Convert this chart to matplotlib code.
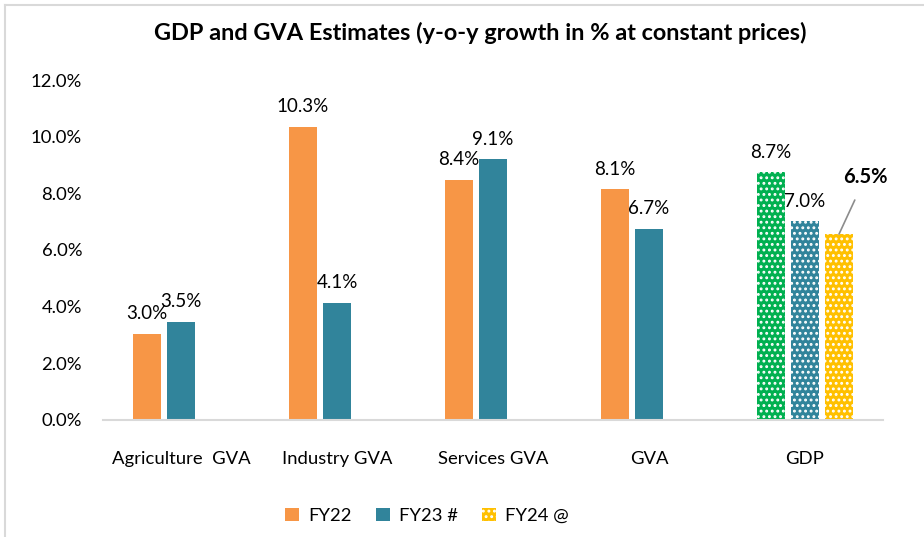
import matplotlib.pyplot as plt
import numpy as np
from matplotlib.patches import Patch
from matplotlib.lines import Line2D

plt.rcParams["font.family"] = ["Lato", "DejaVu Sans"]
plt.rcParams["hatch.linewidth"] = 1.3

categories = ["Agriculture  GVA", "Industry GVA", "Services GVA", "GVA", "GDP"]
fy22 = [3.04, 10.35, 8.48, 8.15, 8.75]
fy23 = [3.46, 4.13, 9.2, 6.74, 7.02]
fy24 = [np.nan, np.nan, np.nan, np.nan, 6.56]
fy22_labels = ["3.0%", "10.3%", "8.4%", "8.1%", "8.7%"]
fy23_labels = ["3.5%", "4.1%", "9.1%", "6.7%", "7.0%"]
fy24_labels = ["", "", "", "", "6.5%"]
series_names = ["FY22", "FY23 #", "FY24 @"]

orange = "#F79646"
teal = "#31849B"
green = "#00B050"
yellow = "#FFC000"

fig = plt.figure(figsize=(9.24, 5.37), dpi=100)
ax = fig.add_axes([103 / 924, 117 / 537, 780 / 924, 340 / 537])

x = np.arange(len(categories))
width = 0.18
step = 0.218

b22 = ax.bar(x - step, fy22, width, color=orange)
b23 = ax.bar(x, fy23, width, color=teal)
b24 = ax.bar(x + step, fy24, width, color=yellow)

# GDP bars are patterned, FY22 shown in green
gdp = len(categories) - 1
for bar, col in [(b22[gdp], green), (b23[gdp], teal), (b24[gdp], yellow)]:
    bar.set_facecolor(col)
    bar.set_edgecolor("white")
    bar.set_linewidth(0)
    bar.set_hatch("...")

for bars, labels in [(b22, fy22_labels), (b23, fy23_labels)]:
    for bar, lab in zip(bars, labels):
        ax.annotate(lab, (bar.get_x() + bar.get_width() / 2, bar.get_height()),
                    xytext=(0, 10.5), textcoords="offset points",
                    ha="center", va="baseline", fontsize=13.5, color="#000000")

# highlighted FY24 GDP label with leader line
top = b24[gdp]
ax.annotate(fy24_labels[gdp], (top.get_x() + top.get_width() / 2, top.get_height()),
            xytext=(19, 41), textcoords="offset points",
            ha="center", va="center", fontsize=14.5, fontweight="bold",
            arrowprops=dict(arrowstyle="-", color="#8C8C8C", lw=1.2,
                            shrinkA=8, shrinkB=0))

ax.set_xlim(-0.5, len(categories) - 0.5)
ax.set_ylim(0, 12)
ax.set_yticks(np.arange(0, 12.1, 2))
ax.set_yticklabels([f"{v:.1f}%" for v in np.arange(0, 12.1, 2)])
ax.set_xticks(x)
ax.set_xticklabels(categories)
ax.tick_params(axis="y", length=0, pad=15, labelsize=13.3)
ax.tick_params(axis="x", length=0, pad=22, labelsize=13.3)
for side in ["top", "right", "left"]:
    ax.spines[side].set_visible(False)
ax.spines["bottom"].set_color("#D9D9D9")
ax.spines["bottom"].set_linewidth(1.5)

fig.text(0.52, 1 - 33 / 537, "GDP and GVA Estimates (y-o-y growth in % at constant prices)",
         ha="center", va="center", fontsize=16.9, fontweight="bold")

handles = [
    Patch(facecolor=orange, label=series_names[0]),
    Patch(facecolor=teal, label=series_names[1]),
    Patch(facecolor=yellow, edgecolor="white", linewidth=0, hatch="...", label=series_names[2]),
]
fig.legend(handles=handles, loc="center", bbox_to_anchor=(0.462, 1 - 516 / 537),
           ncol=3, frameon=False, fontsize=13.3, handlelength=0.75, handleheight=0.75,
           handletextpad=0.5, columnspacing=1.3)

# chart frame (top and left edges visible)
fig.add_artist(Line2D([5 / 924, 1], [1 - 5 / 537, 1 - 5 / 537], color="#D9D9D9", lw=1.5))
fig.add_artist(Line2D([5 / 924, 5 / 924], [0, 1 - 5 / 537], color="#D9D9D9", lw=1.5))

fig.savefig("out.png", dpi=100)
